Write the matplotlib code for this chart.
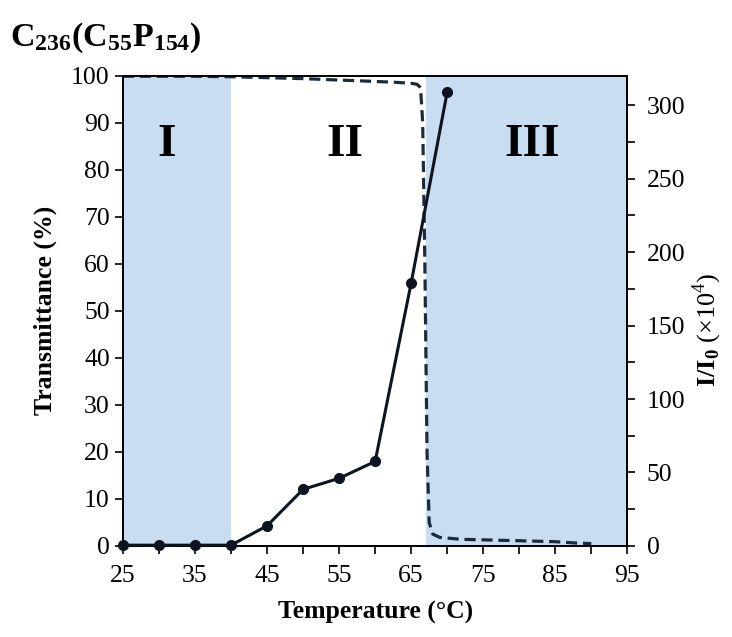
import matplotlib
matplotlib.use("Agg")
import matplotlib.pyplot as plt
from matplotlib.ticker import MultipleLocator

# I/I0 (x10^4) vs temperature
temp_pts = [25, 30, 35, 40, 45, 50, 55, 60, 65, 70]
intensity = [0.5, 0.5, 0.5, 0.5, 13.7, 38.5, 46, 57.5, 179, 309]

# transmittance curve (%)
temp_tr = [25, 30, 35, 40, 45, 50, 55, 60, 63, 65, 65.8, 66.3, 66.6, 66.9,
           67.2, 67.5, 68, 69, 72, 80, 85, 88, 90]
transmit = [99.9, 99.9, 99.9, 99.8, 99.6, 99.4, 99.1, 98.8, 98.6, 98.4, 98.2,
            97.5, 90, 60, 20, 5, 2.5, 1.8, 1.4, 1.1, 0.9, 0.6, 0.5]

regions = [(25, 40), (67, 95)]
region_labels = ["I", "II", "III"]
region_x = [31.1, 55.8, 81.8]

plt.rcParams.update({"font.family": "Liberation Serif", "font.size": 18,
                     "mathtext.fontset": "custom",
                     "mathtext.rm": "Liberation Serif",
                     "mathtext.bf": "Liberation Serif:bold"})

fig = plt.figure(figsize=(7.32, 6.37), dpi=100)
ax = fig.add_axes([0.168, 0.143, 0.689, 0.738])
ax2 = ax.twinx()

for lo, hi in regions:
    ax.axvspan(lo, hi, color="#c8ddf1", lw=0, zorder=0)

ax.plot(temp_tr, transmit, ls=(0, (3.5, 1.8)), color="#1c2b3c", lw=2.3,
        zorder=3)
ax2.plot(temp_pts, intensity, "-o", color="#0d1420", lw=2.2, ms=7, zorder=3,
         clip_on=False)

for lab, x in zip(region_labels, region_x):
    ax.text(x, 85.2, lab, ha="center", va="center", fontsize=34,
            fontweight="bold")

ax.set_xlim(25, 95)
ax.set_ylim(0, 100)
ax2.set_ylim(0, 320)
ax.set_xticks(range(25, 96, 10))
ax.xaxis.set_minor_locator(MultipleLocator(5))
ax.yaxis.set_major_locator(MultipleLocator(10))
ax2.yaxis.set_major_locator(MultipleLocator(50))
ax2.yaxis.set_minor_locator(MultipleLocator(25))
for a in (ax, ax2):
    a.tick_params(which="both", direction="out", width=1.2, length=6,
                  labelsize=18.5)
    for s in a.spines.values():
        s.set_linewidth(1.3)
ax.tick_params(axis="x", pad=8)
ax2.tick_params(axis="y", pad=8)

ax.set_xlabel("Temperature (°C)", fontsize=18.5, fontweight="bold",
              labelpad=10)
ax.set_ylabel("Transmittance (%)", fontsize=18.5, fontweight="bold",
              labelpad=10)
ax2.set_ylabel(r"$\mathbf{I/I_0}$ (×10$^4$)", fontsize=19, labelpad=8)
ax2.yaxis.set_label_coords(1.125, 0.46)

fig.text(0.014, 0.94, r"$\mathbf{C_{236}(C_{55}P_{154})}$", fontsize=24.5,
         va="center", ha="left")

fig.savefig("out.png", dpi=100)
